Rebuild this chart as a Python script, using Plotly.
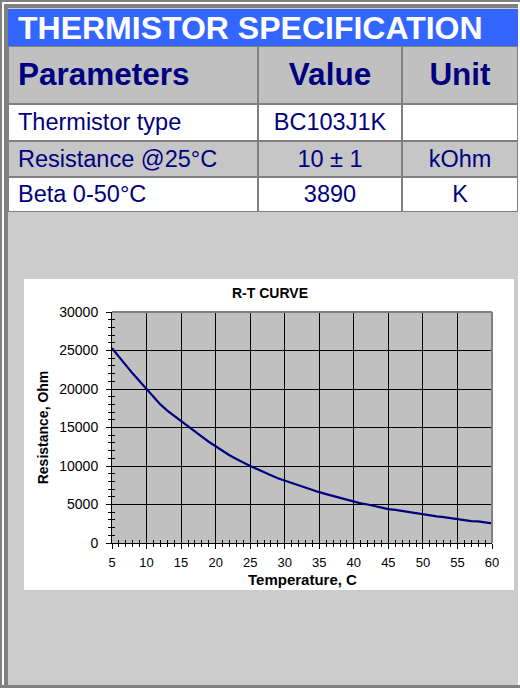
import plotly.graph_objects as go

# ---------------- data ----------------
banner_title = "THERMISTOR SPECIFICATION"
table_headers = ["Parameters", "Value", "Unit"]
param_names = ["Thermistor type", "Resistance @25°C", "Beta 0-50°C"]
param_values = ["BC103J1K", "10 ± 1", "3890"]
param_units = ["", "kOhm", "K"]

chart_title = "R-T CURVE"
x_title = "Temperature, C"
y_title = "Resistance, Ohm"

temperature_c = list(range(5, 61))
resistance_ohm = [
    25300, 24200, 23000, 22000, 21000, 20000, 19000, 18000, 17200, 16500,
    15900, 15100, 14400, 13800, 13150, 12550, 11950, 11400, 10900, 10400,
    10000, 9600, 9250, 8800, 8400, 8100, 7800, 7400, 7100, 6800,
    6600, 6350, 6100, 5850, 5600, 5350, 5150, 5000, 4800, 4600,
    4400, 4300, 4150, 4000, 3850, 3700, 3600, 3450, 3350, 3200,
    3100, 3000, 2850, 2800, 2700, 2550,
]

# ---------------- styles / layout ----------------
W, H = 520, 688
def fx(p):
    return p / W
def fy(p):
    return 1 - p / H

FONT = "Arial, Liberation Sans, sans-serif"
NAVY = "#000080"
GRAYLINE = "#808080"

# table geometry (pixels): column widths and row heights
TABLE_TOP = 46
TEXT_PAD = 10
TEXT_NUDGE = 2
col_widths = [250, 144, 116]
row_heights = [58, 37, 36, 35]
row_fill_codes = [0, 1, 2, 1]          # 0 header grey, 1 white, 2 light grey
fill_scale = [[0, "#c0c0c0"], [0.5, "#ffffff"], [1, "#c6c6c6"]]

col_edges = [0]
for w in col_widths:
    col_edges.append(col_edges[-1] + w)
row_edges = [0]
for h in row_heights:
    row_edges.append(row_edges[-1] + h)
row_centers = [(row_edges[i] + row_edges[i + 1]) / 2 + TEXT_NUDGE for i in range(len(row_heights))]
col_centers = [(col_edges[i] + col_edges[i + 1]) / 2 for i in range(len(col_widths))]

fig = go.Figure()

# ---- specification table (cells through a hidden axis pair x3/y3) ----
fig.add_trace(go.Heatmap(
    x=col_edges, y=row_edges,
    z=[[c] * len(col_widths) for c in row_fill_codes],
    colorscale=fill_scale, zmin=0, zmax=2, showscale=False,
    xgap=2, ygap=2, hoverinfo="skip", xaxis="x3", yaxis="y3",
))
columns = [param_names, param_values, param_units]
for j, col in enumerate(columns):
    texts = ["<b>%s</b>" % table_headers[j]] + col
    if j == 0:
        xs = [col_edges[0] + TEXT_PAD] * len(texts)
        pos = "middle right"
    else:
        xs = [col_centers[j]] * len(texts)
        pos = "middle center"
    fig.add_trace(go.Scatter(
        x=xs, y=row_centers, text=texts, mode="text", textposition=pos,
        textfont=dict(family=FONT, color=NAVY, size=[31.5] + [23.5] * len(col)),
        hoverinfo="skip", showlegend=False, cliponaxis=False,
        xaxis="x3", yaxis="y3",
    ))

# ---- R-T curve ----
fig.add_trace(go.Scatter(x=temperature_c, y=resistance_ohm, mode="lines",
                         line=dict(color=NAVY, width=2.2), hoverinfo="x+y",
                         showlegend=False, xaxis="x", yaxis="y"))
# same data on overlay axes (carries the inward half of the cross ticks)
fig.add_trace(go.Scatter(x=temperature_c, y=resistance_ohm, mode="lines",
                         line=dict(color=NAVY, width=0), hoverinfo="skip",
                         showlegend=False, xaxis="x2", yaxis="y2"))

xdom = [fx(112), fx(492)]
ydom = [fy(543), fy(312)]

common_x = dict(domain=xdom, range=[5, 60], tick0=5, dtick=5, zeroline=False,
                fixedrange=True, automargin=False)
common_y = dict(domain=ydom, range=[0, 30000], tick0=0, dtick=5000, zeroline=False,
                fixedrange=True, tickformat="d", automargin=False)

fig.update_layout(
    width=W, height=H,
    margin=dict(l=0, r=0, t=0, b=0, pad=0, autoexpand=False),
    paper_bgcolor=GRAYLINE,
    plot_bgcolor="rgba(0,0,0,0)",
    showlegend=False,
    xaxis=dict(**common_x, anchor="y", showgrid=True, gridcolor="black", gridwidth=1,
               showline=True, linecolor="black", linewidth=1,
               ticks="outside", ticklen=5, tickcolor="black", tickwidth=1,
               minor=dict(ticks="outside", ticklen=3, dtick=1, tickcolor="black", showgrid=False),
               tickfont=dict(family=FONT, size=13, color="black"), ticklabelstandoff=2),
    yaxis=dict(**common_y, anchor="x", showgrid=True, gridcolor="black", gridwidth=1,
               showline=True, linecolor="black", linewidth=1,
               ticks="outside", ticklen=5, tickcolor="black", tickwidth=1,
               minor=dict(ticks="outside", ticklen=3, dtick=1000, tickcolor="black", showgrid=False),
               tickfont=dict(family=FONT, size=14, color="black"), ticklabelstandoff=5,
               title=dict(text="<b>%s</b>" % y_title, standoff=7,
                          font=dict(family=FONT, size=14, color="black"))),
    xaxis2=dict(**common_x, overlaying="x", anchor="y2", side="bottom", showgrid=False,
                showline=False, ticks="inside", ticklen=5, tickcolor="black", tickwidth=1,
                minor=dict(ticks="inside", ticklen=3, dtick=1, tickcolor="black", showgrid=False),
                showticklabels=False),
    yaxis2=dict(**common_y, overlaying="y", anchor="x2", side="left", showgrid=False,
                showline=False, ticks="inside", ticklen=5, tickcolor="black", tickwidth=1,
                minor=dict(ticks="inside", ticklen=3, dtick=1000, tickcolor="black", showgrid=False),
                showticklabels=False),
    xaxis3=dict(domain=[fx(8), fx(518)], range=[col_edges[0], col_edges[-1]], anchor="y3",
                visible=False, fixedrange=True, automargin=False),
    yaxis3=dict(domain=[fy(TABLE_TOP + row_edges[-1]), fy(TABLE_TOP)],
                range=[row_edges[-1], row_edges[0]],
                anchor="x3", visible=False, fixedrange=True, automargin=False),
    annotations=[
        dict(text="<b>%s</b>" % banner_title, xref="paper", yref="paper",
             x=fx(16), y=fy(28), xanchor="left", yanchor="middle", showarrow=False,
             font=dict(family=FONT, size=32, color="white")),
        dict(text="<b>%s</b>" % chart_title, xref="paper", yref="paper",
             x=fx(270), y=fy(293), xanchor="center", yanchor="middle",
             showarrow=False, font=dict(family=FONT, size=14, color="black")),
        # x-axis title, centred under the plot area
        dict(text="<b>%s</b>" % x_title, xref="x domain", yref="paper",
             x=0.5, y=fy(579), xanchor="center", yanchor="middle", showarrow=False,
             font=dict(family=FONT, size=15, color="black")),
    ],
    shapes=[
        # outer frame
        dict(type="rect", xref="paper", yref="paper", x0=fx(2), x1=fx(520), y0=fy(685), y1=fy(2),
             fillcolor="white", line=dict(width=0), layer="below"),
        dict(type="rect", xref="paper", yref="paper", x0=fx(4), x1=fx(518), y0=fy(685), y1=fy(4),
             fillcolor=GRAYLINE, line=dict(width=0), layer="below"),
        dict(type="rect", xref="paper", yref="paper", x0=fx(8), x1=fx(518), y0=fy(685), y1=fy(8),
             fillcolor="#cccccc", line=dict(width=0), layer="below"),
        # banner
        dict(type="rect", xref="paper", yref="paper", x0=fx(8), x1=fx(518), y0=fy(46), y1=fy(9),
             fillcolor="#3366ff", line=dict(width=0), layer="below"),
        # table grid colour (shows through the cell gaps)
        dict(type="rect", xref="x3 domain", yref="y3 domain", x0=0, x1=1, y0=0, y1=1,
             fillcolor=GRAYLINE, line=dict(width=0), layer="below"),
        # chart area
        dict(type="rect", xref="paper", yref="paper", x0=fx(24), x1=fx(514), y0=fy(590), y1=fy(279),
             fillcolor="white", line=dict(width=0), layer="below"),
        # plot area fill
        dict(type="rect", xref="x domain", yref="y domain", x0=0, x1=1, y0=0, y1=1,
             fillcolor="#c0c0c0", line=dict(width=0), layer="below"),
        # plot area border (top & right)
        dict(type="line", xref="x domain", yref="y domain", x0=0, x1=1, y0=1, y1=1,
             line=dict(color=GRAYLINE, width=2), layer="above"),
        dict(type="line", xref="x domain", yref="y domain", x0=1, x1=1, y0=0, y1=1,
             line=dict(color=GRAYLINE, width=2), layer="above"),
    ],
)

fig.write_html("out.html", config={"displayModeBar": False},
               post_script="document.body.style.margin='0px';")
